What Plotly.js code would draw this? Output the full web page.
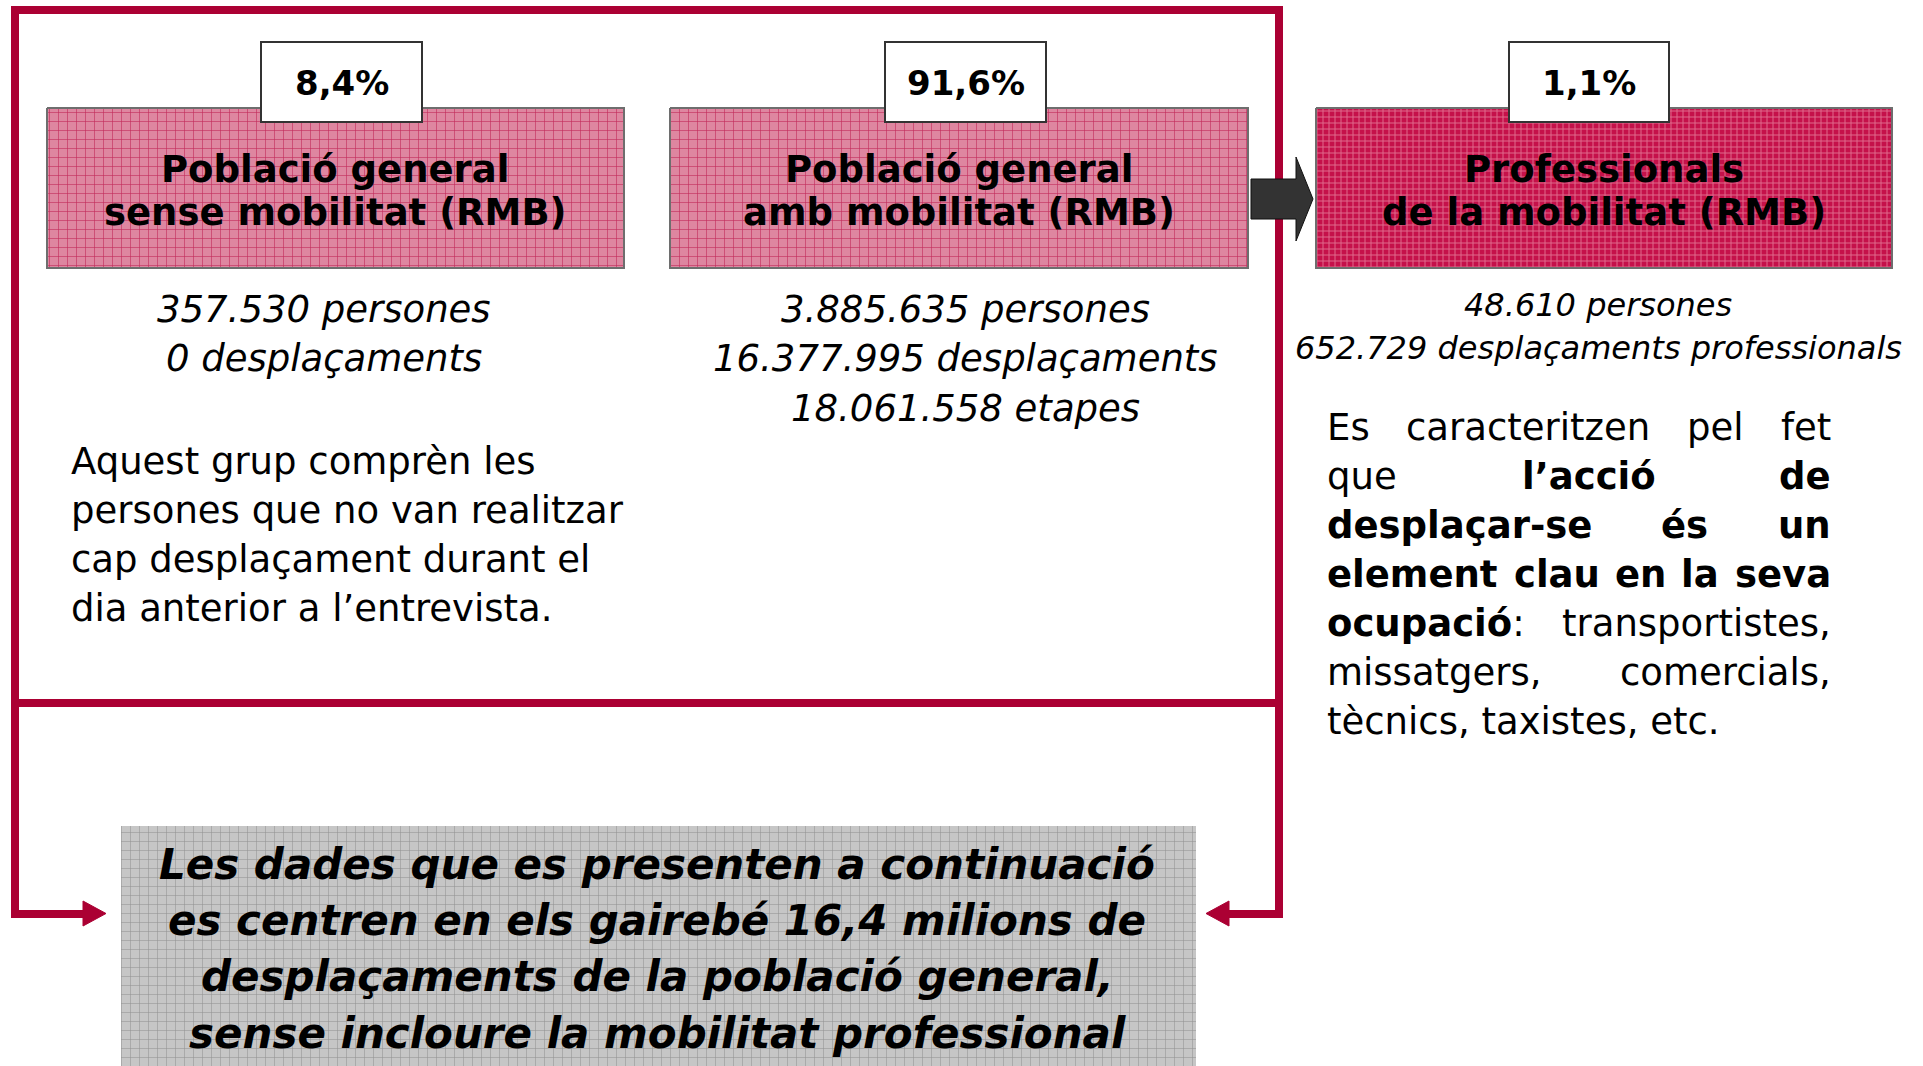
<!DOCTYPE html>
<html>
<head>
<meta charset="utf-8">
<script src="https://cdn.plot.ly/plotly-3.0.1.min.js"></script>
<style>html,body{margin:0;padding:0;background:#fff;}#chart{width:1923px;height:1066px;}</style>
</head>
<body>
<div id="chart"></div>
<script>
// ---------- DATA ----------
const groupTitleLine1 = ['Població general', 'Població general', 'Professionals'];
const groupTitleLine2 = ['sense mobilitat (RMB)', 'amb mobilitat (RMB)', 'de la mobilitat (RMB)'];
const groupShare = ['8,4%', '91,6%', '1,1%'];
const groupPersones = ['357.530', '3.885.635', '48.610'];
const groupDesplacaments = ['0', '16.377.995', '652.729'];
const groupDesplSuffix = ['desplaçaments', 'desplaçaments', 'desplaçaments professionals'];
const groupEtapes = [null, '18.061.558', null];
const descNoMobility = ['Aquest grup comprèn les', 'persones que no van realitzar', 'cap desplaçament durant el', 'dia anterior a l’entrevista.'];
const descProfessionals = [
  ['Es', 'caracteritzen', 'pel', 'fet'],
  ['que', '<b>l’acció</b>', '<b>de</b>'],
  ['<b>desplaçar-se</b>', '<b>és</b>', '<b>un</b>'],
  ['<b>element</b>', '<b>clau</b>', '<b>en</b>', '<b>la</b>', '<b>seva</b>'],
  ['<b>ocupació</b>:', 'transportistes,'],
  ['missatgers,', 'comercials,'],
  ['tècnics, taxistes, etc.']
];
const summaryLines = ['Les dades que es presenten a continuació', 'es centren en els gairebé 16,4 milions de', 'desplaçaments de la població general,', 'sense incloure la mobilitat professional'];

// ---------- LAYOUT GEOMETRY (pixel space) ----------
const FONT = 'DejaVu Sans, Verdana, sans-serif';
const RED = '#ab0033';
const boxX0 = [47, 670, 1316], boxX1 = [624, 1248, 1892];
const boxY0 = 108, boxY1 = 268;
const pctX0 = [261, 885, 1509], pctX1 = [422, 1046, 1669];
const pctY0 = 42, pctY1 = 122;
const statsCx = [324, 965, 1598];
const patterns = [
  {shape: '+', bgcolor: '#de86a0', fgcolor: '#c22a5a', size: 9, solidity: 0.13, fillmode: 'replace'},
  {shape: '+', bgcolor: '#de86a0', fgcolor: '#c22a5a', size: 9, solidity: 0.13, fillmode: 'replace'},
  {shape: '+', bgcolor: '#c5114a', fgcolor: '#e06a8c', size: 6, solidity: 0.3, fillmode: 'replace'}
];
// middle-word centres for the justified paragraph, per line
const midCentres = [[1528, 1715], [1589], [1684], [1557, 1640, 1700], [], [], []];

const traces = [];
const shapes = [];
const ann = [];

function rectTrace(x0, x1, y0, y1, pat, lineColor, lineW) {
  return {
    type: 'scatter', mode: 'lines', x: [x0, x1, x1, x0, x0], y: [y0, y0, y1, y1, y0],
    fill: 'toself', fillcolor: pat.bgcolor, fillpattern: pat,
    line: {color: lineColor, width: lineW}, hoverinfo: 'skip', showlegend: false
  };
}
function txt(x, y, text, size, xanchor, extra) {
  return Object.assign({x: x, y: y, xref: 'x', yref: 'y', text: text, showarrow: false,
    xanchor: xanchor || 'center', yanchor: 'middle', font: {family: FONT, size: size, color: '#000'}}, extra || {});
}

// Group boxes
groupTitleLine1.forEach((t, i) => {
  traces.push(rectTrace(boxX0[i], boxX1[i], boxY0, boxY1, patterns[i], '#6e6e6e', 2));
  const cx = (boxX0[i] + boxX1[i]) / 2;
  ann.push(txt(cx, 169, '<b>' + t + '</b>', 37));
  ann.push(txt(cx, 212, '<b>' + groupTitleLine2[i] + '</b>', 37));
  shapes.push({type: 'rect', xref: 'x', yref: 'y', x0: pctX0[i], x1: pctX1[i], y0: pctY0, y1: pctY1,
    fillcolor: '#ffffff', line: {color: '#333333', width: 2}, layer: 'above'});
  ann.push(txt((pctX0[i] + pctX1[i]) / 2, 83, '<b>' + groupShare[i] + '</b>', 34));
  const lines = [groupPersones[i] + ' persones', groupDesplacaments[i] + ' ' + groupDesplSuffix[i]];
  if (groupEtapes[i]) lines.push(groupEtapes[i] + ' etapes');
  const small = i === 2;
  lines.forEach((l, j) => {
    const y = small ? 305 + j * 43 : 309 + j * 49.5;
    ann.push(txt(statsCx[i], y, '<i>' + l + '</i>', small ? 32 : 37));
  });
});

// Summary gray box
traces.push(rectTrace(121, 1196, 826, 1066,
  {shape: '+', bgcolor: '#c6c6c6', fgcolor: '#929292', size: 9, solidity: 0.12, fillmode: 'replace'}, 'rgba(0,0,0,0)', 0));
summaryLines.forEach((l, j) => {
  ann.push(txt(657, 864 + j * 56.4, '<b><i>' + l + '</i></b>', 42));
});

// Description left
descNoMobility.forEach((l, j) => {
  ann.push(txt(69, 461 + j * 49, l, 37, 'left'));
});

// Description right (justified)
const jL = 1325, jR = 1833;
const yR = [427, 476, 525, 574, 623, 672, 721];
descProfessionals.forEach((words, j) => {
  const y = yR[j];
  ann.push(txt(jL, y, words[0], 37, 'left'));
  if (words.length === 1) return;
  ann.push(txt(jR, y, words[words.length - 1], 37, 'right'));
  words.slice(1, -1).forEach((w, k) => ann.push(txt(midCentres[j][k], y, w, 37, 'center')));
});

// Red frame + connectors
shapes.push({type: 'path', xref: 'x', yref: 'y', path: 'M15,703 L15,10 L1279,10 L1279,703 Z',
  line: {color: RED, width: 8}, fillcolor: 'rgba(0,0,0,0)', layer: 'above'});
shapes.push({type: 'path', xref: 'x', yref: 'y', path: 'M15,703 L15,914 L86,914',
  line: {color: RED, width: 8}, layer: 'above'});
shapes.push({type: 'path', xref: 'x', yref: 'y', path: 'M1279,703 L1279,914 L1226,914',
  line: {color: RED, width: 8}, layer: 'above'});
shapes.push({type: 'path', xref: 'x', yref: 'y', path: 'M83,901 L106,913.5 L83,926 Z',
  fillcolor: RED, line: {color: RED, width: 1}, layer: 'above'});
shapes.push({type: 'path', xref: 'x', yref: 'y', path: 'M1229,901 L1206,913.5 L1229,926 Z',
  fillcolor: RED, line: {color: RED, width: 1}, layer: 'above'});
// Dark block arrow
shapes.push({type: 'path', xref: 'x', yref: 'y',
  path: 'M1251,179 L1296,179 L1296,157 L1313,199 L1296,241 L1296,219 L1251,219 Z',
  fillcolor: '#333333', line: {color: '#111111', width: 1}, layer: 'above'});

const layout = {
  width: 1923, height: 1066,
  margin: {l: 0, r: 0, t: 0, b: 0},
  paper_bgcolor: '#ffffff', plot_bgcolor: '#ffffff',
  xaxis: {range: [0, 1923], visible: false, fixedrange: true},
  yaxis: {range: [1066, 0], visible: false, fixedrange: true},
  shapes: shapes, annotations: ann, showlegend: false
};
Plotly.newPlot('chart', traces, layout, {displayModeBar: false, staticPlot: true});
</script>
</body>
</html>
